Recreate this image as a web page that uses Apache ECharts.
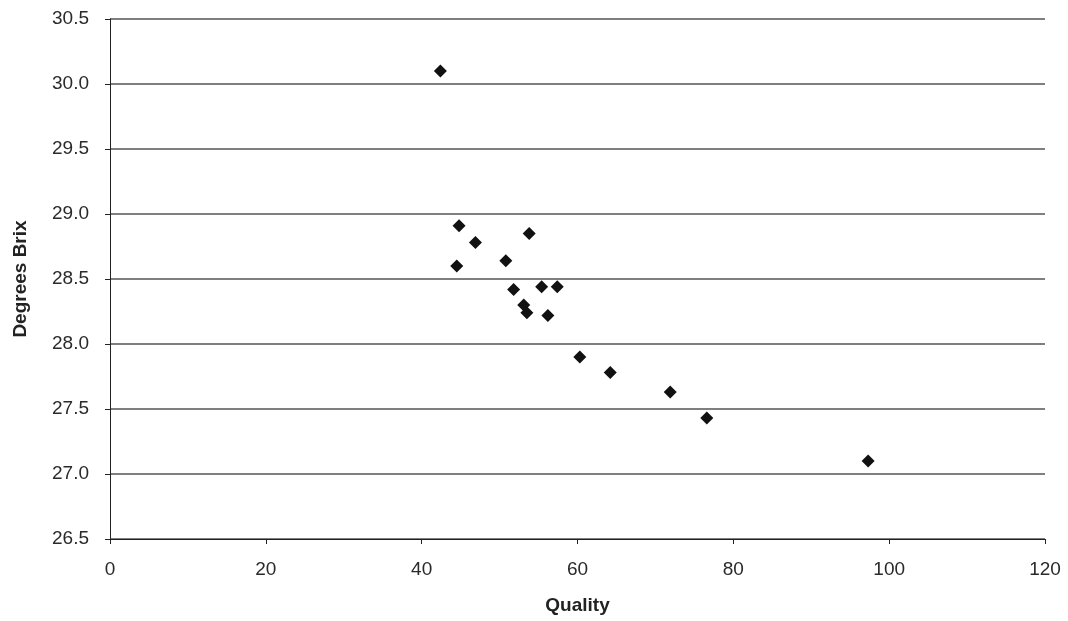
<!DOCTYPE html>
<html>
<head>
<meta charset="utf-8">
<script src="https://cdn.jsdelivr.net/npm/echarts@6/dist/echarts.min.js"></script>
<style>html,body{margin:0;padding:0;background:#fff}#c{width:1068px;height:621px}</style>
</head>
<body>
<div id="c"></div>
<script>
const quality = [42.4, 44.8, 46.9, 53.8, 44.5, 50.8, 51.8, 55.4, 57.4, 53.1, 53.5, 56.2, 60.3, 64.2, 71.9, 76.6, 97.3];
const brix    = [30.10, 28.91, 28.78, 28.85, 28.60, 28.64, 28.42, 28.44, 28.44, 28.30, 28.24, 28.22, 27.90, 27.78, 27.63, 27.43, 27.10];
const xTicks = [0, 20, 40, 60, 80, 100, 120];
const yTicks = [26.5, 27.0, 27.5, 28.0, 28.5, 29.0, 29.5, 30.0, 30.5];

const chart = echarts.init(document.getElementById('c'));
const font = 'Liberation Sans, Arial, sans-serif';
chart.setOption({
  animation: false,
  backgroundColor: '#fff',
  grid: { left: 110, right: 23, top: 19, bottom: 82 },
  xAxis: {
    type: 'value', min: xTicks[0], max: xTicks[xTicks.length - 1], interval: 20,
    name: 'Quality', nameLocation: 'middle', nameGap: 57,
    nameTextStyle: { fontFamily: font, fontWeight: 'bold', fontSize: 19, color: '#222' },
    axisLine: { lineStyle: { color: '#222', width: 1 } },
    axisTick: { show: true, length: 5, lineStyle: { color: '#222' } },
    axisLabel: { fontFamily: font, fontSize: 19, color: '#2a2a2a', margin: 21 },
    splitLine: { show: false }
  },
  yAxis: {
    type: 'value', min: yTicks[0], max: yTicks[yTicks.length - 1], interval: 0.5,
    name: 'Degrees Brix', nameLocation: 'middle', nameGap: 80, nameRotate: 90,
    nameTextStyle: { fontFamily: font, fontWeight: 'bold', fontSize: 19, color: '#222' },
    axisLine: { show: true, lineStyle: { color: '#222', width: 1 } },
    axisTick: { show: true, length: 5, lineStyle: { color: '#222' } },
    axisLabel: { fontFamily: font, fontSize: 19, color: '#2a2a2a', margin: 21, formatter: v => v.toFixed(1) },
    splitLine: { show: true, lineStyle: { color: '#555', width: 1.5 } }
  },
  series: [{
    type: 'scatter',
    symbol: 'diamond',
    symbolSize: 13,
    itemStyle: { color: '#111', opacity: 1 },
    data: quality.map((q, i) => [q, brix[i]])
  }]
});
</script>
</body>
</html>
